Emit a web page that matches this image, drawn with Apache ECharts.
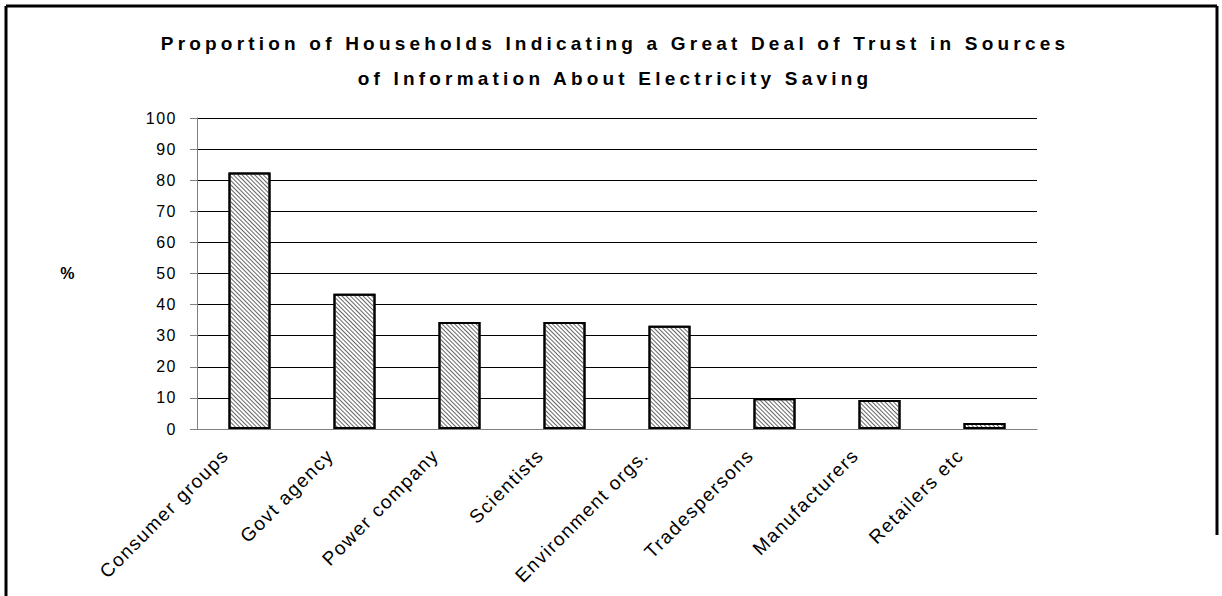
<!DOCTYPE html>
<html><head><meta charset="utf-8">
<script src="https://cdn.jsdelivr.net/npm/echarts@6/dist/echarts.min.js"></script>
<style>
html,body{margin:0;padding:0;background:#fff;}
#c{width:1222px;height:596px;}
#c svg text{letter-spacing:1.5px;}
</style></head><body><div id="c"></div>
<script>
const titleLines = ['Proportion of Households Indicating a Great Deal of Trust in Sources', 'of Information About Electricity Saving'];
const categories = ['Consumer groups', 'Govt agency', 'Power company', 'Scientists', 'Environment orgs.', 'Tradespersons', 'Manufacturers', 'Retailers etc'];
const trustPct = [82.5, 43.5, 34.4, 34.4, 33.2, 9.9, 9.3, 1.9];
const yMin = 0, yMax = 100, yStep = 10;
const yName = '%';

const chart = echarts.init(document.getElementById('c'), null, {renderer: 'svg'});
chart.setOption({
  animation: false,
  backgroundColor: '#fff',
  aria: {enabled: true, decal: {show: true}},
  title: {
    text: titleLines.join('\n'), left: 610, top: 21, textAlign: 'center',
    textStyle: {fontFamily: 'Arial', fontWeight: 'bold', fontSize: 19, lineHeight: 35, color: '#000'}
  },
  grid: {left: 197, right: 185, top: 118, bottom: 167},
  xAxis: {
    type: 'category', data: categories,
    axisLine: {lineStyle: {color: '#808080', width: 1}},
    axisTick: {length: 7, lineStyle: {color: '#808080'}},
    axisLabel: {rotate: 45, fontSize: 19, color: '#000', fontFamily: 'Arial', margin: -1, interval: 0, padding: [0, 34, 0, 0]}
  },
  yAxis: {
    type: 'value', min: yMin, max: yMax, interval: yStep,
    name: yName, nameLocation: 'middle', nameRotate: 0, nameGap: 121,
    nameTextStyle: {fontSize: 16, fontWeight: 'bold', color: '#000', fontFamily: 'Arial'},
    axisLine: {show: true, lineStyle: {color: '#808080'}},
    axisTick: {show: true, length: 7, lineStyle: {color: '#808080'}},
    axisLabel: {fontSize: 16, color: '#000', fontFamily: 'Arial', margin: 20},
    splitLine: {lineStyle: {color: '#000', width: 1}}
  },
  graphic: [
    {type: 'line', shape: {x1: 6, y1: 6, x2: 6, y2: 596}, style: {stroke: '#000', lineWidth: 3}},
    {type: 'line', shape: {x1: 6, y1: 6, x2: 1217, y2: 6}, style: {stroke: '#000', lineWidth: 3}},
    {type: 'line', shape: {x1: 1217, y1: 6, x2: 1217, y2: 535}, style: {stroke: '#000', lineWidth: 3}}
  ],
  series: [{
    type: 'bar', data: trustPct, barWidth: 42,
    itemStyle: {
      color: '#fff', borderColor: '#000', borderWidth: 2,
      decal: {symbol: 'rect', symbolSize: 1, dashArrayX: [1, 0], dashArrayY: [1, 2], rotation: Math.PI / 4, color: '#666', backgroundColor: '#fff'}
    }
  }]
});
function spaceTitle() {
  document.querySelectorAll('#c svg text').forEach(function (t) {
    const s = t.textContent;
    if (titleLines.indexOf(s) >= 0) t.style.letterSpacing = '4.2px';
  });
}
chart.on('finished', spaceTitle);
spaceTitle();
setTimeout(spaceTitle, 50);
</script></body></html>
